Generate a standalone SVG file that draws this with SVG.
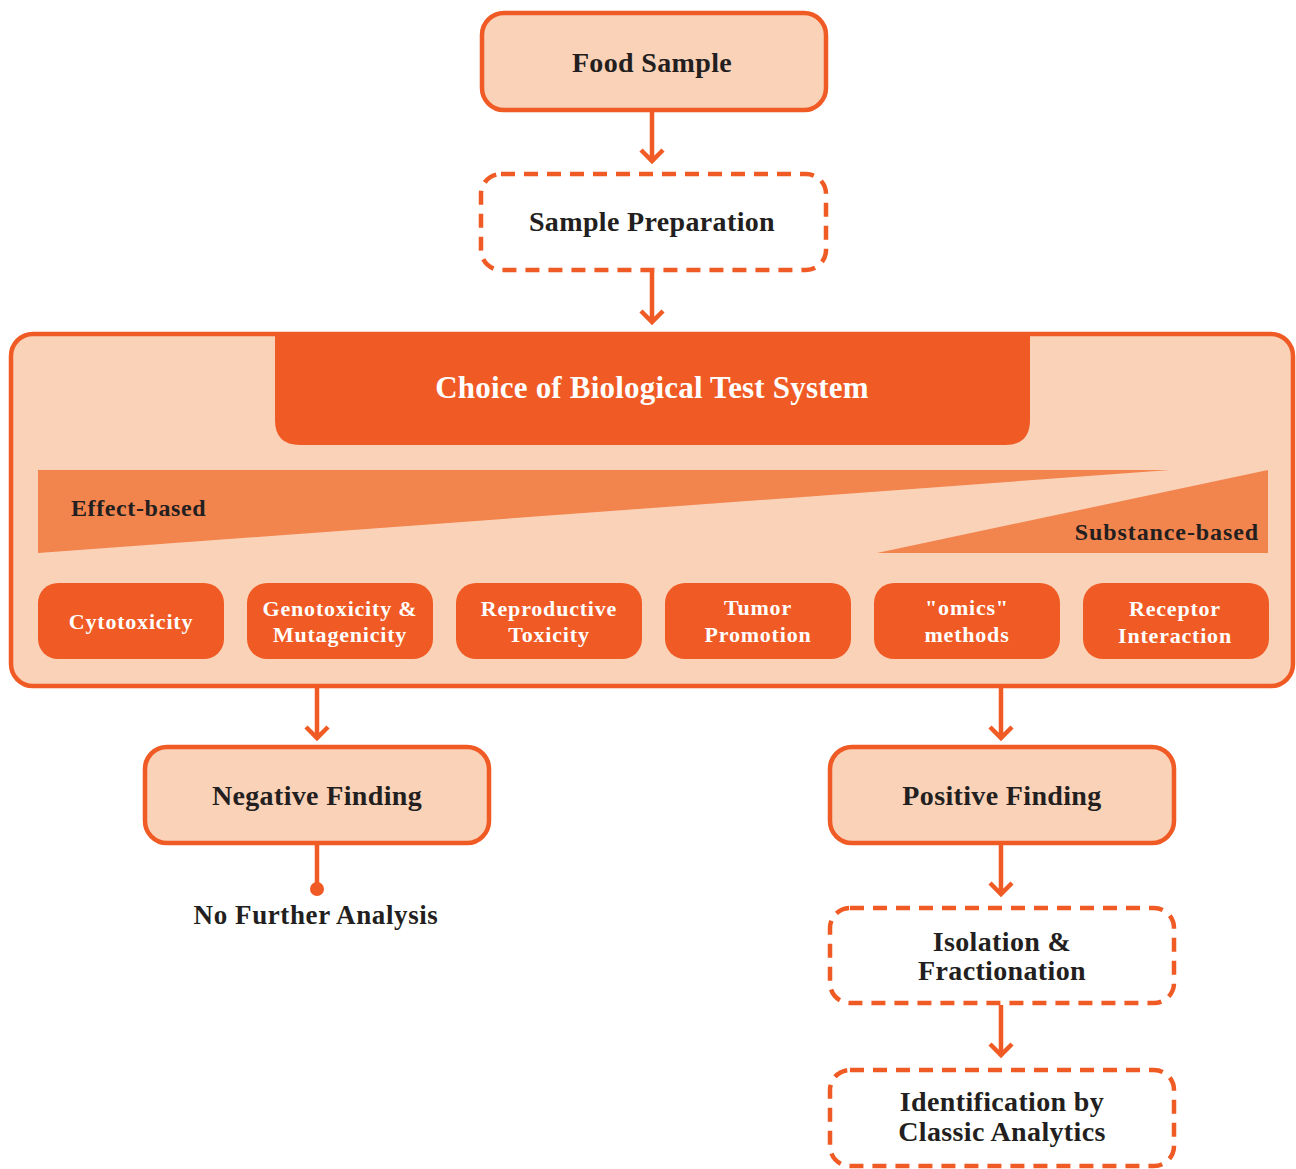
<svg xmlns="http://www.w3.org/2000/svg" width="1296" height="1169" viewBox="0 0 1296 1169">
<style>
.box{fill:#FAD2B8;stroke:#F05A24;stroke-width:4.5}
.dash{fill:#fff;stroke:#F05A24;stroke-width:4.5;stroke-dasharray:14 9}
.t{font-family:"Liberation Serif","DejaVu Serif",serif;font-weight:bold;fill:#231F20;text-anchor:middle;font-size:28px;letter-spacing:0.35px}
.w{font-family:"Liberation Serif","DejaVu Serif",serif;font-weight:bold;fill:#fff;text-anchor:middle;font-size:22px;letter-spacing:0.8px}
.lbl{font-family:"Liberation Serif","DejaVu Serif",serif;font-weight:bold;fill:#231F20;font-size:24px}
.sub{fill:#F05A24}
.wedge{fill:#F2844E}
.con{stroke:#F05A24;stroke-width:4.5;fill:none}
</style>
<g id="food-sample"><rect class="box" x="482" y="13" width="344" height="97" rx="22"/><text class="t" x="652" y="72">Food Sample</text></g>
<g id="sample-preparation"><rect class="dash" x="481" y="174" width="345" height="96" rx="20"/><text class="t" x="652" y="231">Sample Preparation</text></g>
<g id="test-system">
<rect class="box" x="11" y="334" width="1282" height="352" rx="22"/>
<path class="sub" d="M275 336 H1030 V420 Q1030 445 1005 445 H300 Q275 445 275 420 Z"/>
<text class="w" x="652" y="398" style="font-size:31px;letter-spacing:0.2px">Choice of Biological Test System</text>
<polygon class="wedge" points="38,470 1170,470 38,553"/>
<polygon class="wedge" points="1268,470 1268,553 877,553"/>
<text class="lbl" x="71" y="516" style="letter-spacing:0.6px">Effect-based</text>
<text class="lbl" x="1259" y="540" style="text-anchor:end;letter-spacing:0.9px">Substance-based</text>
</g>
<g id="cytotoxicity"><rect class="sub" x="38" y="583" width="186" height="76" rx="20"/><text class="w" x="131" y="629">Cytotoxicity</text></g>
<g id="genotoxicity"><rect class="sub" x="247" y="583" width="186" height="76" rx="20"/><text class="w" x="340" y="616">Genotoxicity &amp;</text><text class="w" x="340" y="642">Mutagenicity</text></g>
<g id="reproductive"><rect class="sub" x="456" y="583" width="186" height="76" rx="20"/><text class="w" x="549" y="616">Reproductive</text><text class="w" x="549" y="642">Toxicity</text></g>
<g id="tumor"><rect class="sub" x="665" y="583" width="186" height="76" rx="20"/><text class="w" x="758" y="615">Tumor</text><text class="w" x="758" y="642">Promotion</text></g>
<g id="omics"><rect class="sub" x="874" y="583" width="186" height="76" rx="20"/><text class="w" x="967" y="615">"omics"</text><text class="w" x="967" y="642">methods</text></g>
<g id="receptor"><rect class="sub" x="1083" y="583" width="186" height="76" rx="20"/><text class="w" x="1175" y="616">Receptor</text><text class="w" x="1175" y="643">Interaction</text></g>
<g id="negative-finding"><rect class="box" x="145" y="747" width="344" height="96" rx="22"/><text class="t" x="317" y="805">Negative Finding</text></g>
<g id="no-further"><text class="t" x="316" y="924" style="font-size:27px;letter-spacing:0.6px">No Further Analysis</text></g>
<g id="positive-finding"><rect class="box" x="830" y="747" width="344" height="96" rx="22"/><text class="t" x="1002" y="805">Positive Finding</text></g>
<g id="isolation"><rect class="dash" x="830" y="908" width="344" height="95" rx="20"/><text class="t" x="1002" y="951">Isolation &amp;</text><text class="t" x="1002" y="980">Fractionation</text></g>
<g id="identification"><rect class="dash" x="830" y="1070" width="344" height="96" rx="20"/><text class="t" x="1002" y="1111">Identification by</text><text class="t" x="1002" y="1141">Classic Analytics</text></g>
<g id="connectors" class="con">
<path d="M652 112 V160 M641 150 L652 161 L663 150"/>
<path d="M652 272 V321 M641 311 L652 322 L663 311"/>
<path d="M317 688 V737 M306 727 L317 738 L328 727"/>
<path d="M1001 688 V737 M990 727 L1001 738 L1012 727"/>
<path d="M1001 845 V893 M990 883 L1001 894 L1012 883"/>
<path d="M1001 1005 V1054 M990 1044 L1001 1055 L1012 1044"/>
<path d="M317 845 V885"/>
<circle cx="317" cy="889" r="7" fill="#F05A24" stroke="none"/>
</g>
</svg>
